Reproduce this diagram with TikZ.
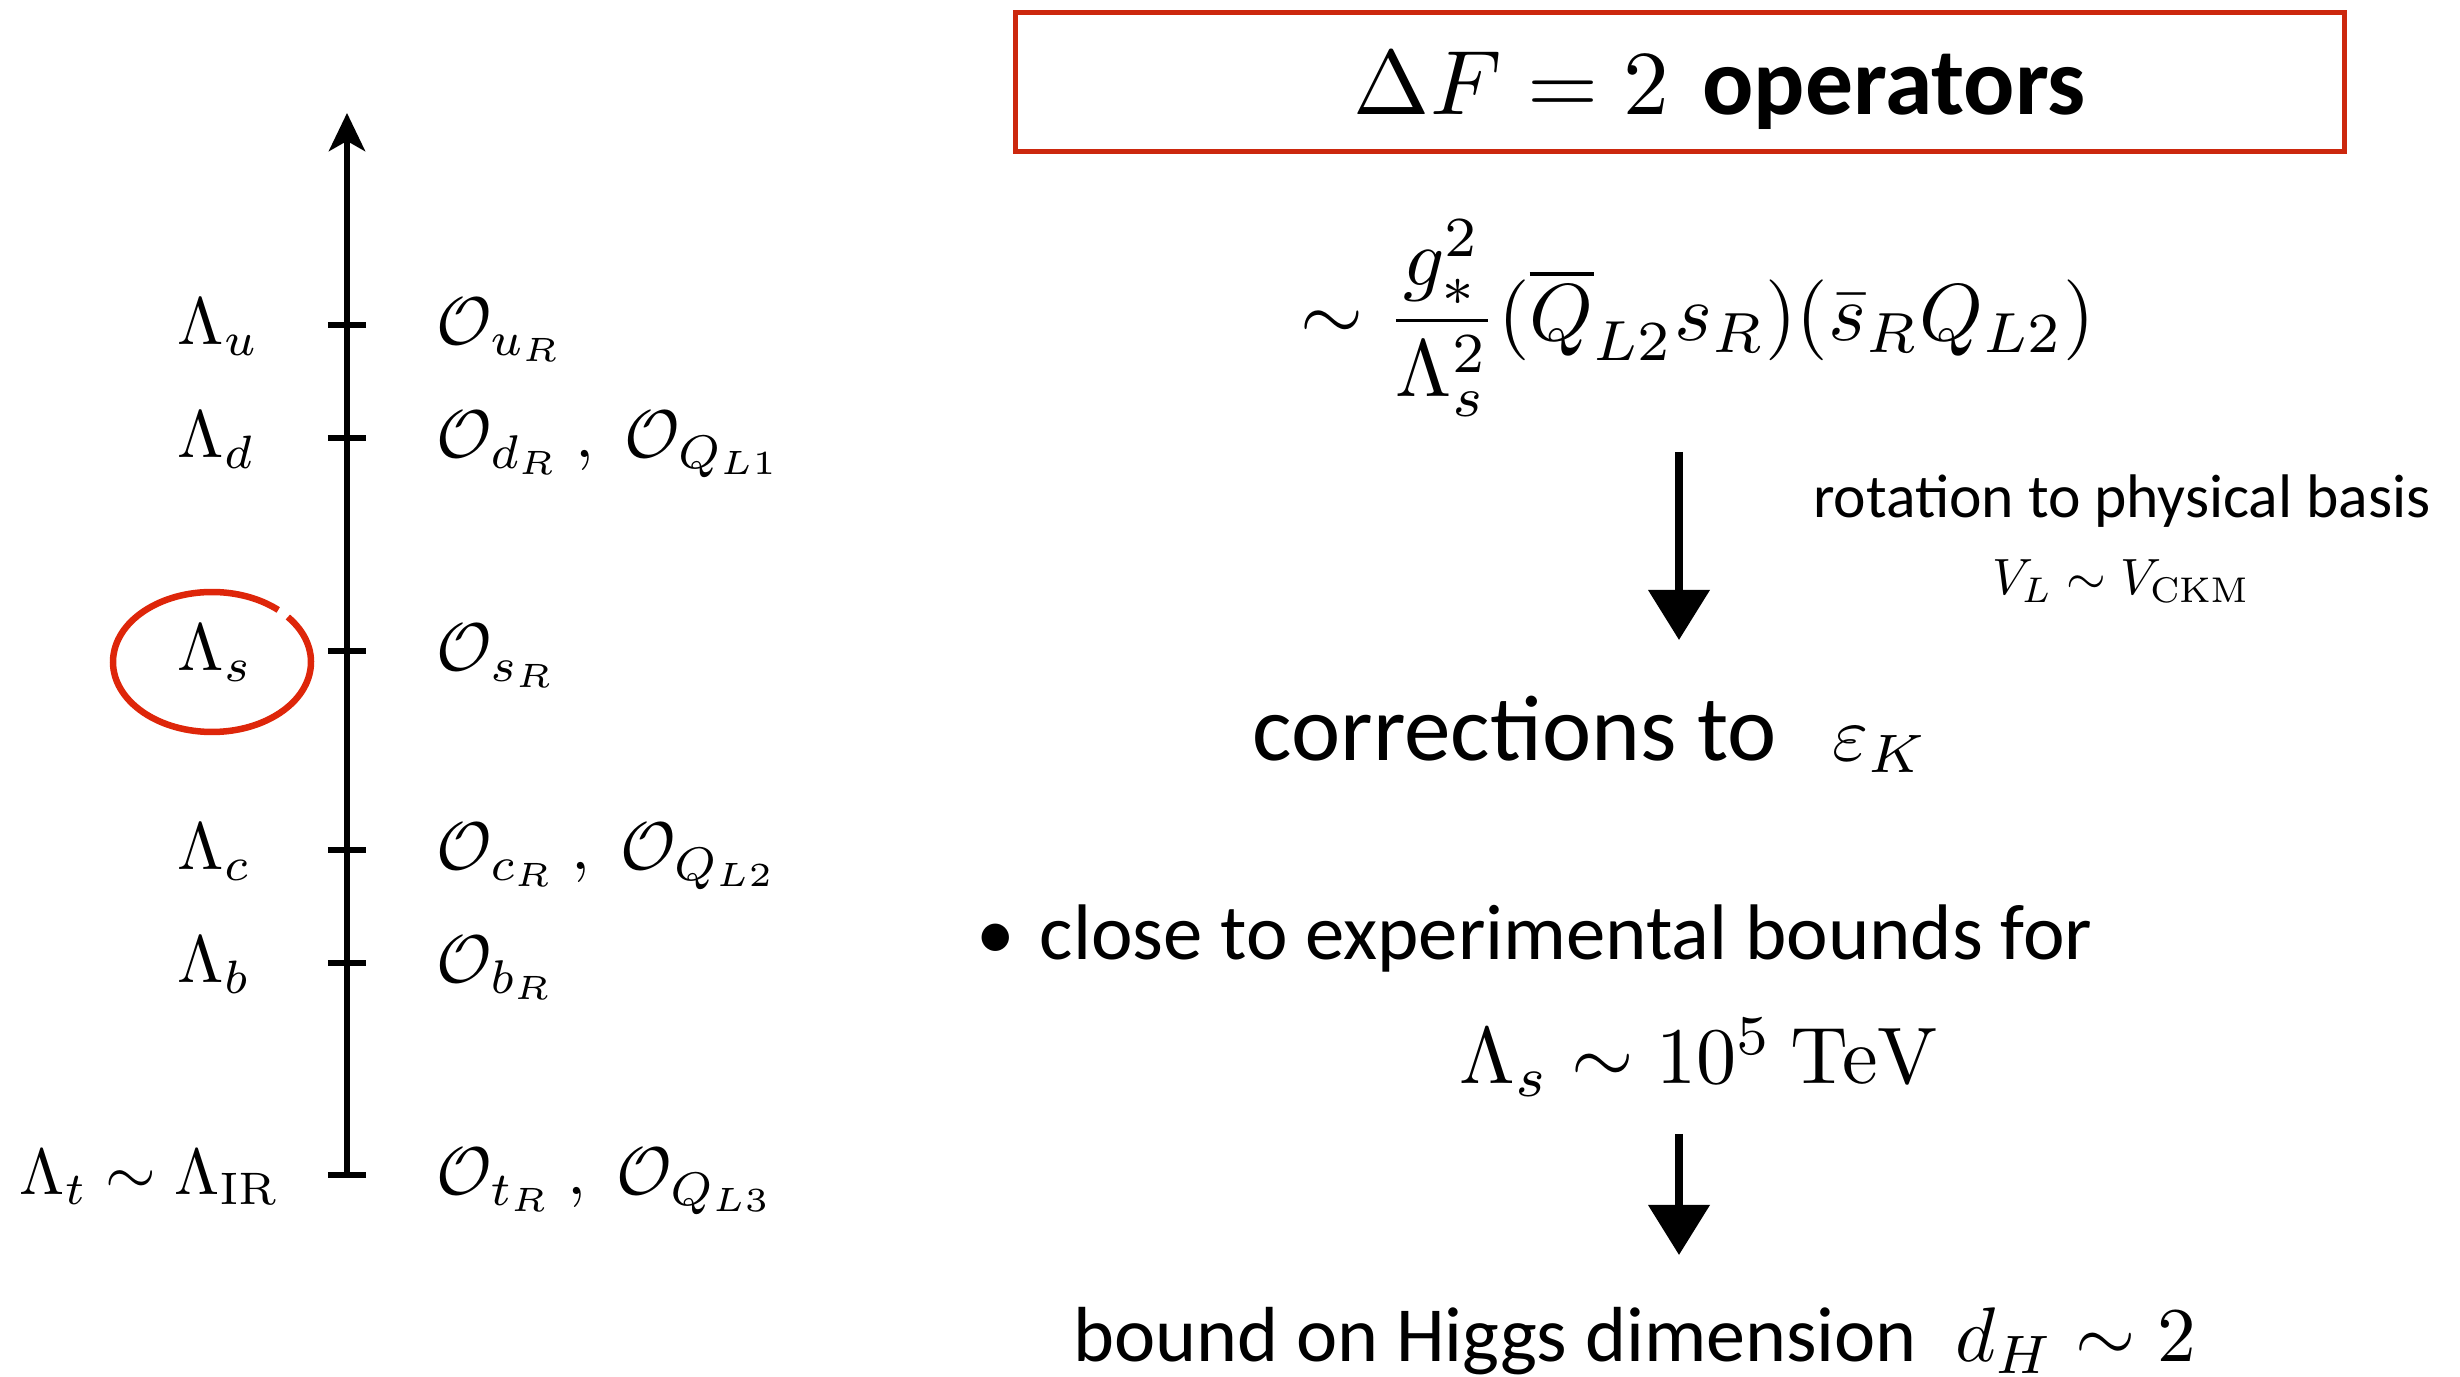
\documentclass[tikz,border=0pt]{standalone}
\usepackage[no-math]{fontspec}
\usepackage{graphicx}
\setmainfont{Carlito}
\usetikzlibrary{arrows.meta}
\definecolor{boxred}{RGB}{204,40,14}
\definecolor{circred}{RGB}{222,38,10}
\newcommand\myscale[2]{\scalebox{#1}{#2}}
\begin{document}
\begin{tikzpicture}[x=0.01cm,y=-0.01cm,
  lam/.style={anchor=base west, inner sep=0pt},
  tickmark/.style={line width=0.06cm},
  axisline/.style={line width=0.065cm, -{Stealth[length=0.38cm,width=0.36cm,inset=0.1cm]}},
  sketcharrow/.style={line width=0.075cm, -{Triangle[length=0.5cm,width=0.6cm]}},
  txt/.style={inner sep=0pt}]
\useasboundingbox (0,0) rectangle (2460,1377);
% axis
\coordinate (axbot) at (347,1175);
\coordinate (axtop) at (347,113);
\draw[axisline] (axbot) -- (axtop);
\foreach \n/\y in {tu/325,td/438,ts/651,tc/850,tb/963,tt/1175}{
  \coordinate (\n) at (347,\y);
  \draw[tickmark] ([xshift=-0.19cm]\n) -- ([xshift=0.19cm]\n);
}
% left labels
\node[lam] (lu) at (177,345) {\myscale{1.9}{$\Lambda_u$}};
\node[lam] (ld) at (177,458) {\myscale{1.9}{$\Lambda_d$}};
\node[lam] (ls) at (177,671) {\myscale{1.9}{$\Lambda_s$}};
\node[lam] (lc) at (177,870) {\myscale{1.9}{$\Lambda_c$}};
\node[lam] (lb) at (177,983) {\myscale{1.9}{$\Lambda_b$}};
\node[lam] (lt) at (19,1195) {\myscale{1.85}{$\Lambda_t\sim\Lambda_{\mathrm{IR}}$}};
% right labels
\node[lam] (ou) at (436,345) {\myscale{1.92}{$\mathcal{O}_{u_R}$}};
\node[lam] (od) at (436,458) {\myscale{1.92}{$\mathcal{O}_{d_R}\ ,\;\mathcal{O}_{Q_{L1}}$}};
\node[lam] (os) at (436,671) {\myscale{1.92}{$\mathcal{O}_{s_R}$}};
\node[lam] (oc) at (436,870) {\myscale{1.92}{$\mathcal{O}_{c_R}\ ,\;\mathcal{O}_{Q_{L2}}$}};
\node[lam] (ob) at (436,983) {\myscale{1.92}{$\mathcal{O}_{b_R}$}};
\node[lam] (ot) at (436,1195) {\myscale{1.92}{$\mathcal{O}_{t_R}\ ,\;\mathcal{O}_{Q_{L3}}$}};
% red circle
\draw[circred, line width=0.065cm] (212,662) ++(-40:99 and 70)
  arc[start angle=-40, end angle=312, x radius=99, y radius=70];
% title
\draw[boxred, line width=0.05cm] (1015,13) rectangle (2344,152);
\node[txt, anchor=base] (title) at (1720,115)
  {\myscale{2.6}{$\Delta F = 2$}\hspace{0.33cm}\myscale{2.72}{\bfseries operators}};
% formula
\node[txt] (formula) at (1698,318)
  {\myscale{2.3}{$\displaystyle \sim\frac{g_*^2}{\Lambda_s^2}(\overline{Q}_{L2}s_R)(\bar{s}_RQ_{L2})$}};
% arrow 1
\coordinate (a1s) at (1679,452);
\coordinate (a1e) at (1679,640);
\draw[sketcharrow] (a1s) -- (a1e);
\node[txt, anchor=base] (rot) at (2122,518)
  {\myscale{1.75}{rotation to physical basis}};
\node[txt, anchor=base] (vl) at (2121,595)
  {\myscale{1.45}{$V_L\sim V_{\mathrm{CKM}}$}};
% corrections
\node[txt, anchor=base west] (corr) at (1252,761)
  {\myscale{2.65}{corrections to}\hspace{0.55cm}\myscale{2.2}{$\varepsilon_K$}};
% bullet
\node[txt, anchor=base west] (bul) at (976,960) {\myscale{2.2}{\textbullet}};
\node[txt, anchor=base west] (close) at (1039,960)
  {\myscale{2.24}{close to experimental bounds for}};
\node[txt, anchor=base west] (lams) at (1459,1084)
  {\myscale{2.28}{$\Lambda_s\sim 10^5\ \mathrm{TeV}$}};
% arrow 2
\coordinate (a2s) at (1679,1134);
\coordinate (a2e) at (1679,1255);
\draw[sketcharrow] (a2s) -- (a2e);
\node[txt, anchor=base west] (bound) at (1073,1362)
  {\myscale{2.22}{bound on Higgs dimension}\hspace{0.38cm}\myscale{2.2}{$d_H\sim 2$}};
\end{tikzpicture}
\end{document}
